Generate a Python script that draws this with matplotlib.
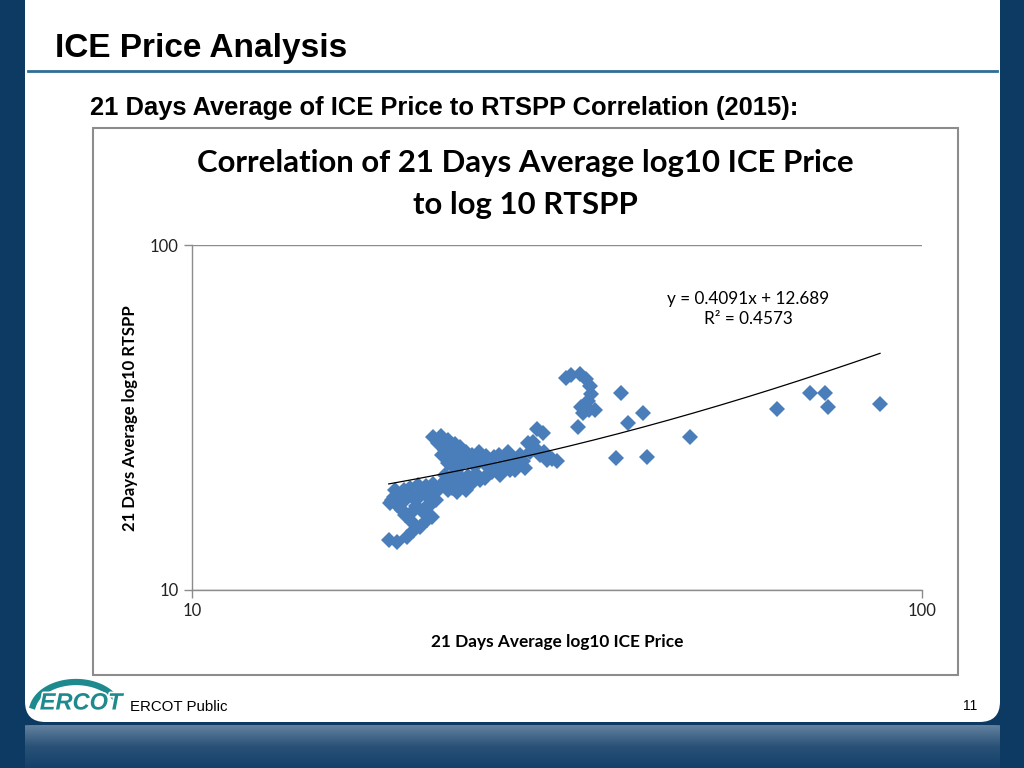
import numpy as np
import matplotlib
matplotlib.use("Agg")
import matplotlib.pyplot as plt
from matplotlib.patches import FancyBboxPatch, Rectangle
from matplotlib.ticker import FixedLocator, FixedFormatter, NullLocator
import matplotlib.patheffects as pe

W, H = 1024, 768

# 21 days average ICE price (x) vs RTSPP (y), 2015
ice_price = [
    18.6, 19.1, 19.7, 20.1, 20.5, 21.0, 21.3, 20.0,
    18.8, 19.1, 19.1, 19.5, 19.6, 19.9, 20.1, 20.4, 20.5, 20.9, 21.0, 21.4,
    21.6, 19.4, 20.3, 20.9, 18.9, 20.0,
    19.0, 19.3, 19.8, 20.3, 20.7, 21.2, 21.2, 20.7, 19.6, 18.7, 21.7,
    21.9, 22.3, 22.7, 22.4, 23.1, 23.4, 23.9, 24.0, 24.5, 24.8, 23.0, 23.1, 23.7,
    22.2, 22.7, 23.5, 24.3, 25.2, 25.8,
    21.4, 21.9, 22.4, 22.9, 23.3, 23.7, 24.2, 24.7, 25.3, 25.9, 22.2, 22.6,
    23.0, 23.4, 22.4, 22.9, 23.9, 24.4, 22.0, 25.1, 25.6,
    22.7, 23.3, 24.0, 24.7, 26.3, 21.7,
    26.1, 26.6, 27.1, 26.9, 27.5, 28.0, 28.4, 28.9, 29.0, 29.5, 30.0, 30.6,
    31.1, 27.7, 26.4, 25.4, 29.7, 30.3, 29.3,
    27.3, 28.1, 28.6, 30.4, 31.6,
    32.5, 33.1, 34.0, 34.7, 35.1, 35.2, 34.9, 34.1, 35.0, 35.6, 34.3, 33.8,
    87.6, 74.3, 73.6, 70.2, 63.3, 48.1, 42.0, 38.1, 41.5, 39.6, 38.7,
]
rtspp = [
    14.0, 13.8, 14.2, 14.8, 15.2, 16.0, 16.3, 15.7,
    18.2, 18.9, 17.6, 19.5, 18.2, 19.8, 18.6, 20.2, 19.0, 20.0, 18.7, 20.3,
    18.2, 17.1, 17.5, 17.4, 18.6, 16.8,
    19.5, 18.2, 19.1, 18.2, 19.5, 19.4, 17.6, 16.8, 16.5, 17.9, 19.5,
    20.2, 20.8, 20.6, 19.5, 21.1, 20.0, 21.4, 20.3, 21.7, 20.8, 22.0, 19.2, 19.5,
    21.5, 19.8, 20.8, 20.6, 21.1, 22.0,
    27.8, 28.0, 27.2, 26.5, 26.0, 25.1, 24.6, 24.5, 24.5, 24.3, 25.5, 24.5,
    23.8, 23.2, 23.3, 22.6, 23.5, 22.9, 24.6, 23.3, 22.6,
    25.5, 24.6, 23.8, 25.1, 24.6, 26.7,
    22.3, 22.9, 25.1, 23.5, 23.8, 22.9, 23.7, 26.7, 25.1, 25.8, 24.6, 23.8,
    24.0, 22.3, 21.5, 21.7, 29.3, 28.5, 26.9,
    22.3, 24.6, 22.6, 25.1, 23.7,
    41.2, 42.0, 42.3, 40.9, 39.0, 37.0, 35.3, 33.9, 33.2, 33.2, 32.6, 29.7,
    34.6, 33.9, 37.2, 37.2, 33.5, 27.8, 24.3, 24.1, 32.6, 30.5, 37.2,
]

trend_slope = 0.4091
trend_intercept = 12.689
trend_text = "y = 0.4091x + 12.689\nR² = 0.4573"

axis_ticks = [10, 100]
axis_tick_labels = ["10", "100"]

navy = "#0d3a62"
marker_blue = "#4a7ebb"
gray = "#8c8c8c"
logo_teal = "#1f8a8e"
slide_font = ["Liberation Sans", "DejaVu Sans"]
chart_font = ["Lato", "DejaVu Sans"]


def fx(px):
    return px / W


def fy(py):
    return 1 - py / H


fig = plt.figure(figsize=(W / 100, H / 100), dpi=100, facecolor=navy)

# white slide panel with rounded bottom corners
panel = FancyBboxPatch((fx(25), fy(722)), fx(1000) - fx(25), 1.2,
                       boxstyle="round,pad=0,rounding_size=0.02",
                       transform=fig.transFigure, facecolor="white",
                       edgecolor="none", mutation_aspect=W / H, zorder=0)
fig.patches.append(panel)

# gradient band at the bottom
band_ax = fig.add_axes([fx(25), 0, fx(1000) - fx(25), fy(725)])
band_ax.axis("off")
grad = np.linspace(0, 1, 64).reshape(-1, 1)
img = band_ax.imshow(grad, aspect="auto", cmap=matplotlib.colors.LinearSegmentedColormap.from_list(
    "band", ["#6584a0", "#2a5278", "#14406a"]), extent=[0, 1, 0, 1], origin="upper")
clip = FancyBboxPatch((0, -0.5), 1, 1.5, boxstyle="round,pad=0,rounding_size=0.02",
                      transform=band_ax.transAxes, facecolor="none", edgecolor="none",
                      mutation_aspect=43 / 975 * 6)
band_ax.add_patch(clip)
img.set_clip_path(clip)

# slide title and rule
fig.text(fx(55), fy(48), "ICE Price Analysis", fontsize=24, fontweight="bold",
         family=slide_font, va="center", ha="left", color="black")
fig.add_artist(plt.Line2D([fx(28), fx(997)], [fy(71), fy(71)], color="#2e6e94", lw=2,
                          transform=fig.transFigure))
fig.text(fx(90), fy(108), "21 Days Average of ICE Price to RTSPP Correlation (2015):",
         fontsize=18.4, fontweight="bold", family=slide_font, va="center", ha="left")

# chart frame
frame = Rectangle((fx(93), fy(675)), fx(958) - fx(93), fy(128) - fy(675),
                  transform=fig.transFigure, facecolor="white",
                  edgecolor=gray, lw=1.5, zorder=0.5)
fig.patches.append(frame)

# scatter chart
ax = fig.add_axes([fx(192), fy(590), fx(922) - fx(192), fy(245) - fy(590)])
ax.set_zorder(2)
ax.patch.set_alpha(0)
ax.set_xscale("log")
ax.set_yscale("log")
ax.set_xlim(10, 100)
ax.set_ylim(10, 100)
ax.plot(ice_price, rtspp, linestyle="none", marker="D", markersize=8.4,
        markerfacecolor=marker_blue, markeredgewidth=0, zorder=3)

trend_x = np.linspace(min(ice_price), max(ice_price), 200)
ax.plot(trend_x, trend_slope * trend_x + trend_intercept, color="black", lw=0.9, zorder=4)

for axis in (ax.xaxis, ax.yaxis):
    axis.set_major_locator(FixedLocator(axis_ticks))
    axis.set_major_formatter(FixedFormatter(axis_tick_labels))
    axis.set_minor_locator(NullLocator())
ax.tick_params(axis="both", which="major", length=6, width=1, color=gray,
               labelsize=12, labelcolor="#222222")
for lab in ax.get_xticklabels() + ax.get_yticklabels():
    lab.set_family(chart_font)
ax.yaxis.grid(True, color=gray, lw=1)
ax.set_axisbelow(True)
for side in ("top", "right"):
    ax.spines[side].set_visible(False)
for side in ("left", "bottom"):
    ax.spines[side].set_color(gray)
    ax.spines[side].set_linewidth(1)

ax.text(0.762, 0.814, trend_text, transform=ax.transAxes, ha="center", va="center",
        fontsize=12.3, family=chart_font, linespacing=1.3)

fig.text(fx(525), fy(163), "Correlation of 21 Days Average log10 ICE Price",
         fontsize=22.4, fontweight="bold", family=chart_font, ha="center", va="center")
fig.text(fx(525), fy(205), "to log 10 RTSPP",
         fontsize=22.4, fontweight="bold", family=chart_font, ha="center", va="center")
fig.text(fx(557), fy(642), "21 Days Average log10 ICE Price", fontsize=12.4,
         fontweight="bold", family=chart_font, ha="center", va="center")
fig.text(fx(130), fy(418), "21 Days Average log10 RTSPP", fontsize=12, rotation=90,
         fontweight="bold", family=chart_font, ha="center", va="center")

# footer: logo swoosh, label and page number
t = np.linspace(np.radians(30), np.radians(168), 60)
logo_x = fx(76) + fx(44) * np.cos(t)
logo_y = fy(712) + (30 / H) * np.sin(t)
fig.add_artist(plt.Line2D(logo_x, logo_y, color=logo_teal, lw=4.5,
                          transform=fig.transFigure))
fig.text(fx(81), fy(703), "ERCOT", fontsize=17, fontweight="bold", style="italic",
         family=slide_font, color=logo_teal, ha="center", va="center",
         path_effects=[pe.withStroke(linewidth=2.5, foreground="white")])
fig.text(fx(130), fy(707), "ERCOT Public", fontsize=10.8, family=slide_font,
         ha="left", va="center")
fig.text(fx(970), fy(706), "11", fontsize=10, family=slide_font, ha="center", va="center")

fig.savefig("out.png", dpi=100, facecolor=navy)
